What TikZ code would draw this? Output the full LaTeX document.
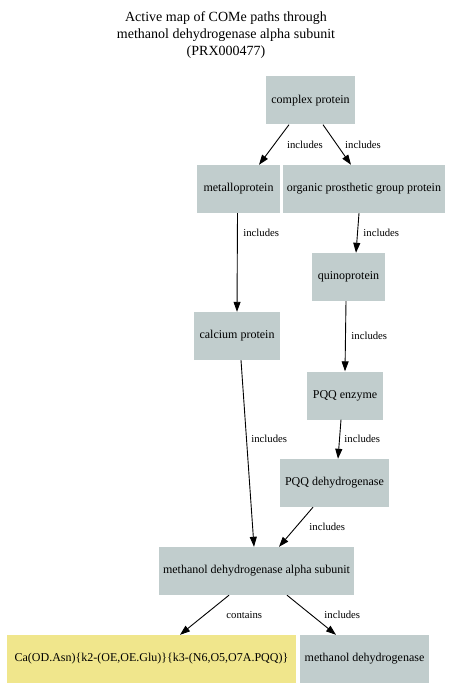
\documentclass[tikz,border=0pt]{standalone}
\usepackage{fontspec}
\setmainfont{Liberation Serif}
\usetikzlibrary{arrows.meta}
\definecolor{boxFill}{HTML}{C1CDCD}
\definecolor{ligandFill}{HTML}{F0E68C}

\begin{document}
\begin{tikzpicture}[
  x=1pt, y=-1pt,
  font=\fontsize{12}{14}\selectfont,
  box/.style={draw=none, fill=boxFill, align=center, inner sep=0pt,
              minimum height=48pt},
  ligand/.style={box, fill=ligandFill},
  title/.style={font=\fontsize{14}{17}\selectfont, align=center},
  flow/.style={-{Triangle[length=10pt,width=7pt]}, line width=0.9pt, draw=black},
  lbl/.style={font=\fontsize{10.7}{12}\selectfont, inner sep=0pt, anchor=west},
]
\useasboundingbox (0,0) rectangle (453,700);

% ---------------- NODES (absolute grid) ----------------
\node[title] (TITLE) at (226,35)
  {Active map of COMe paths through\\methanol dehydrogenase alpha subunit\\(PRX000477)};
\node[box, minimum width=89pt] (CP) at (310.5,100.5) {complex protein};
\node[box, minimum width=83pt] (MP) at (238.5,189) {metalloprotein};
\node[box, minimum width=162pt] (OP) at (364,189) {organic prosthetic group protein};
\node[box, minimum width=73pt] (QP) at (348.5,277) {quinoprotein};
\node[box, minimum width=86pt] (CA) at (237,336) {calcium protein};
\node[box, minimum width=76pt] (PE) at (345,395.5) {PQQ enzyme};
\node[box, minimum width=109pt] (PD) at (334.5,483) {PQQ dehydrogenase};
\node[box, minimum width=195pt] (MDHA) at (256.5,571) {methanol dehydrogenase alpha subunit};
\node[ligand, minimum width=289pt] (SITE) at (151.5,659)
  {Ca(OD.Asn)\{k2-(OE,OE.Glu)\}\{k3-(N6,O5,O7A.PQQ)\}};
\node[box, minimum width=129pt] (MDH) at (364.5,659) {methanol dehydrogenase};

% ---------------- EDGES ----------------
\draw[flow] ([xshift=-21.5pt]CP.south) -- ([xshift=20.5pt]MP.north)
  node[lbl, pos=0.51, xshift=13pt]{includes};
\draw[flow] ([xshift=12.5pt]CP.south) -- ([xshift=-13pt]OP.north)
  node[lbl, pos=0.51, xshift=7.5pt]{includes};
\draw[flow] ([xshift=-1pt]MP.south) -- (CA.north)
  node[lbl, pos=0.2, xshift=5.5pt]{includes};
\draw[flow] ([xshift=-5pt]OP.south) -- ([xshift=7.5pt]QP.north)
  node[lbl, pos=0.5, xshift=5.5pt]{includes};
\draw[flow] ([xshift=-2.5pt]QP.south) -- (PE.north)
  node[lbl, pos=0.5, xshift=5.5pt]{includes};
\draw[flow] ([xshift=4pt]CA.south) -- ([xshift=-2.5pt]MDHA.north)
  node[lbl, pos=0.42, xshift=4.5pt]{includes};
\draw[flow] ([xshift=-4pt]PE.south) -- ([xshift=3.5pt]PD.north)
  node[lbl, pos=0.5, xshift=4.5pt]{includes};
\draw[flow] ([xshift=-21.5pt]PD.south) -- ([xshift=22.5pt]MDHA.north)
  node[lbl, pos=0.5, xshift=13pt]{includes};
\draw[flow] ([xshift=-27.5pt]MDHA.south) -- ([xshift=28.5pt]SITE.north)
  node[lbl, pos=0.5, xshift=21.5pt]{contains};
\draw[flow] ([xshift=30.5pt]MDHA.south) -- ([xshift=-28.5pt]MDH.north)
  node[lbl, pos=0.5, xshift=12.5pt]{includes};
\end{tikzpicture}
\end{document}
